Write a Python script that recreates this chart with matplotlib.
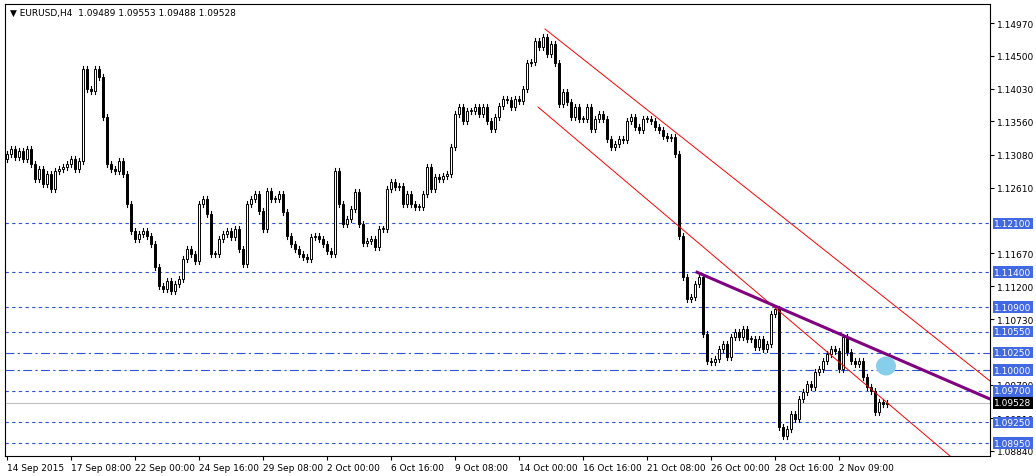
import matplotlib
matplotlib.use("Agg")
import matplotlib.pyplot as plt
from matplotlib.patches import Rectangle, Ellipse
import numpy as np

# closes (as pixel rows, converted to price below)
close_px = [155,150,158,152,160,150,165,180,170,185,175,
            190,172,170,168,165,160,170,162,70,90,92,70,78,118,165,170,172,162,175,
            205,232,240,235,232,237,245,268,287,290,282,292,285,280,260,250,255,262,
            205,200,215,255,255,240,235,232,238,230,250,265,205,200,195,
            212,230,192,200,200,195,213,237,245,250,255,258,260,238,237,240,245,252,255,
            172,205,225,220,210,193,225,244,242,240,248,230,230,190,183,188,187,205,195,
            205,208,208,195,168,190,178,180,177,175,148,115,108,122,112,112,108,115,108,
            122,130,118,107,100,101,108,100,102,90,64,63,42,48,38,55,
            45,64,105,93,103,118,108,120,120,108,130,120,115,120,140,148,145,140,141,
            122,118,128,131,120,120,122,128,131,137,139,138,155,237,278,300,298,285,278,
            335,362,363,360,350,345,358,338,333,338,330,340,340,348,340,350,345,315,310,
            428,437,430,415,420,400,393,385,388,373,370,362,355,350,352,370,338,353,362,
            365,362,378,388,392,413,403,405,404]
open_first_px = 160

date_labels = ["14 Sep 2015","17 Sep 08:00","22 Sep 00:00","24 Sep 16:00","29 Sep 08:00",
               "2 Oct 00:00","6 Oct 16:00","9 Oct 08:00","14 Oct 00:00","16 Oct 16:00",
               "21 Oct 08:00","26 Oct 00:00","28 Oct 16:00","2 Nov 09:00"]
price_ticks = [1.14970,1.14500,1.14030,1.13560,1.13080,1.12610,1.11670,1.11200,1.10730,1.09790,1.09310,1.08840]
levels = [1.12100,1.11400,1.10900,1.10550,1.10250,1.10000,1.09700,1.09250,1.08950]
level_dashdot = [1.10250,1.10000]
last_price = 1.09528
# trend lines: (x_pixel_start, price_start, x_pixel_end, price_end)
red_upper = (545, 1.14970-(30-24)/6982, 990, 1.14970-(382-24)/6982)
red_lower = (538, 1.14970-(108-24)/6982, 950, 1.14970-(457-24)/6982)
purple = (697, 1.11400, 990, 1.14970-(400-24)/6982)

PX = 6982.0
def px2p(y): return 1.14970 - (y - 24) / PX
def xpx2i(x): return (x - 7) / 4.0

closes = np.array([px2p(y) for y in close_px])
opens = np.concatenate([[px2p(open_first_px)], closes[:-1]])

W, H = 1036, 477
fig = plt.figure(figsize=(W/100, H/100), dpi=100)
ax = fig.add_axes([5/W, 1-457/H, 985/W, 452/H])
ymax, ymin = px2p(5), px2p(457)
ax.set_ylim(ymin, ymax)
ax.set_xlim(xpx2i(5), xpx2i(990))

for lv in levels:
    ls = (0, (8, 3, 2, 3)) if lv in level_dashdot else (0, (3, 3))
    ax.axhline(lv, color="#2f55d4", lw=0.8, ls=ls, zorder=1)
ax.axhline(last_price, color="#c0c0c0", lw=0.8, zorder=1)

wick = 3 / PX
for i, (o, c) in enumerate(zip(opens, closes)):
    hi, lo = max(o, c) + wick, min(o, c) - wick
    ax.plot([i, i], [lo, hi], color="black", lw=0.8, zorder=2)
    up = c >= o
    h = max(abs(c - o), 0.6 / PX)
    ax.add_patch(Rectangle((i - 0.35, min(o, c)), 0.7, h, facecolor="white" if up else "black",
                           edgecolor="black", lw=0.7, zorder=3))

for (x0, p0, x1, p1), col, lw in [(red_upper, "red", 0.7), (red_lower, "red", 0.7), (purple, "#800080", 2.2)]:
    ax.plot([xpx2i(x0), xpx2i(x1)], [p0, p1], color=col, lw=lw, zorder=4)

ax.add_patch(Ellipse((xpx2i(886), px2p(367)), 20/4, 19/PX, facecolor="#87ceeb", edgecolor="none", zorder=5))

ax.set_yticks(price_ticks)
ax.set_yticklabels([f"{p:.5f}" for p in price_ticks])
ax.yaxis.tick_right()
ax.tick_params(axis="y", labelsize=6.5, length=3, pad=2)
ticks = [16*k for k in range(len(date_labels))]
ax.set_xticks(ticks)
ax.set_xticklabels(date_labels, ha="left")
ax.tick_params(axis="x", labelsize=6.5, length=3, pad=2)
for lab in ax.get_xticklabels():
    lab.set_x(0)

box = dict(boxstyle="square,pad=0.15", fc="#4169e1", ec="none")
for lv in levels:
    ax.text(1.004, lv, f"{lv:.5f}", transform=ax.get_yaxis_transform(), fontsize=6.5,
            color="white", va="center", ha="left", bbox=box, zorder=10, clip_on=False)
ax.text(1.004, last_price, f"{last_price:.5f}", transform=ax.get_yaxis_transform(), fontsize=6.5,
        color="white", va="center", ha="left", bbox=dict(boxstyle="square,pad=0.15", fc="black", ec="none"),
        zorder=10, clip_on=False)

fig.text(10/W, 1-13/H, "▼ EURUSD,H4  1.09489 1.09553 1.09488 1.09528", fontsize=6.5, va="center")
for s in ax.spines.values():
    s.set_linewidth(0.8)

fig.savefig("out.png", dpi=100)
